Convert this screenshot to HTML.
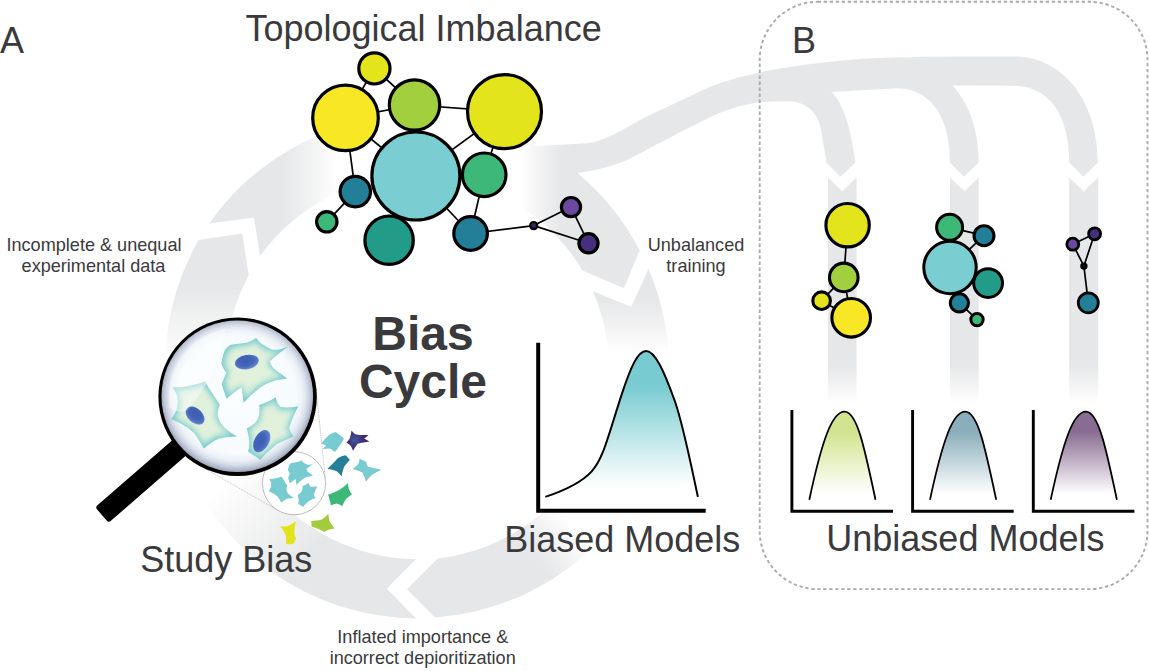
<!DOCTYPE html>
<html><head><meta charset="utf-8"><title>Bias Cycle</title>
<style>html,body{margin:0;padding:0;background:#fff}svg{display:block}text{font-family:"Liberation Sans",Arial,Helvetica,sans-serif;fill:#3a3a3c}</style>
</head><body>
<svg width="1149" height="671" viewBox="0 0 1149 671">
<defs>
<linearGradient id="g1" gradientUnits="userSpaceOnUse" x1="0.0" y1="364.0" x2="0.0" y2="286.0"><stop offset="0" stop-color="#e6e7e8" stop-opacity="0"/><stop offset="1" stop-color="#e6e7e8" stop-opacity="1"/></linearGradient>
<linearGradient id="g2" gradientUnits="userSpaceOnUse" x1="284.0" y1="0.0" x2="338.0" y2="0.0"><stop offset="0" stop-color="#e6e7e8" stop-opacity="1"/><stop offset="1" stop-color="#e6e7e8" stop-opacity="0"/></linearGradient>
<linearGradient id="g4" gradientUnits="userSpaceOnUse" x1="0.0" y1="300.0" x2="0.0" y2="354.0"><stop offset="0" stop-color="#e6e7e8" stop-opacity="1"/><stop offset="1" stop-color="#e6e7e8" stop-opacity="0"/></linearGradient>
<linearGradient id="g5" gradientUnits="userSpaceOnUse" x1="572.5" y1="525.2" x2="534.7" y2="555.1"><stop offset="0" stop-color="#e6e7e8" stop-opacity="0"/><stop offset="1" stop-color="#e6e7e8" stop-opacity="1"/></linearGradient>
<linearGradient id="g6" gradientUnits="userSpaceOnUse" x1="306.6" y1="559.1" x2="225.5" y2="478.0"><stop offset="0" stop-color="#e6e7e8" stop-opacity="1"/><stop offset="1" stop-color="#e6e7e8" stop-opacity="0"/></linearGradient>
<linearGradient id="g3" gradientUnits="userSpaceOnUse" x1="519.0" y1="0.0" x2="561.0" y2="0.0"><stop offset="0" stop-color="#e6e7e8" stop-opacity="0"/><stop offset="1" stop-color="#e6e7e8" stop-opacity="1"/></linearGradient>
<linearGradient id="gc" gradientUnits="userSpaceOnUse" x1="0.0" y1="366.0" x2="0.0" y2="403.0"><stop offset="0" stop-color="#e6e7e8" stop-opacity="1"/><stop offset="1" stop-color="#e6e7e8" stop-opacity="0"/></linearGradient>
<linearGradient id="pb" gradientUnits="userSpaceOnUse" x1="0" y1="352" x2="0" y2="486"><stop offset="0" stop-color="#78cbd0"/><stop offset="0.25" stop-color="#78cbd0"/><stop offset="1" stop-color="#fff"/></linearGradient>
<linearGradient id="pu0" gradientUnits="userSpaceOnUse" x1="0" y1="411" x2="0" y2="494"><stop offset="0" stop-color="#d2e48f"/><stop offset="0.25" stop-color="#d2e48f"/><stop offset="1" stop-color="#fff"/></linearGradient>
<linearGradient id="pu1" gradientUnits="userSpaceOnUse" x1="0" y1="411" x2="0" y2="494"><stop offset="0" stop-color="#8aaebb"/><stop offset="0.25" stop-color="#8aaebb"/><stop offset="1" stop-color="#fff"/></linearGradient>
<linearGradient id="pu2" gradientUnits="userSpaceOnUse" x1="0" y1="411" x2="0" y2="494"><stop offset="0" stop-color="#896c92"/><stop offset="0.25" stop-color="#896c92"/><stop offset="1" stop-color="#fff"/></linearGradient>
<radialGradient id="glass" gradientUnits="userSpaceOnUse" cx="237.3" cy="395.0" r="77.3"><stop offset="0" stop-color="#fbfdff"/><stop offset="0.76" stop-color="#f7fbfe"/><stop offset="0.84" stop-color="#edf2f8"/><stop offset="0.90" stop-color="#dae0ea"/><stop offset="0.95" stop-color="#bdc5d4"/><stop offset="0.985" stop-color="#a4acc0"/><stop offset="1" stop-color="#979fb5"/></radialGradient>
<radialGradient id="cg" cx="0.5" cy="0.5" r="0.6"><stop offset="0" stop-color="#e2f1dc"/><stop offset="0.55" stop-color="#d6eedd"/><stop offset="0.85" stop-color="#b3e3df"/><stop offset="1" stop-color="#8fd6d8"/></radialGradient>
<radialGradient id="ng" cx="0.45" cy="0.4" r="0.62"><stop offset="0" stop-color="#3d5bb1"/><stop offset="0.55" stop-color="#4465b8"/><stop offset="0.85" stop-color="#5a7dc8"/><stop offset="1" stop-color="#86a6dc"/></radialGradient>
<path id="c1" d="M 230.1 345.1 C 236 343.5 242 343.5 247.5 342.4 C 251 341.5 253.5 339.5 256.2 338 C 258.5 341 260.5 343.5 263.6 345.1 C 266.5 347 269.5 349 273 349.8 C 278 350 283.5 348.5 288.4 346.4 C 282 351 275 356 269.7 361.2 C 270.5 363.5 271.5 366 273 367.9 C 277.5 371.5 282.5 375 287.1 378.6 C 282.5 379.5 277.5 380 273 381.3 C 268 383 263.5 385 259.6 388 C 254 392.5 248.5 397.5 243.5 402.7 C 243 397.5 242.5 392.5 241.5 387.3 C 236.5 390.5 231.5 394.5 226.8 398.7 C 225 394 223 389 221.8 384 C 223 380 225 376.5 226.4 372.6 C 224.5 370 222.5 367 221.4 363.9 C 222 359.5 223 354.5 224.7 350.5 C 226 348.5 228 346.5 230.1 345.1 Z"/><path id="c2" d="M 172.3 387.2 C 178.5 387.5 185 386.8 190.8 385.4 C 195.8 384.4 200.5 383 204.9 381.4 C 209.5 389.3 215 397 219.7 404.9 C 218.3 408.3 217.4 412 217.6 415.6 C 218.5 420 221 424.2 224.3 427.6 C 228 431 232.5 434 237.1 436.4 C 231 436.5 225 437 219 438.4 C 213.5 441 208.5 444.5 203.6 448.4 C 200.8 443 197.8 437.8 194.2 433 C 190 429 185 425.8 180.1 423 C 177 421.5 174 420.3 171 418.9 C 173.5 416 175.6 412.6 176.8 408.9 C 177.8 405 178 400.8 177.4 396.8 C 176.3 393.3 174.5 390 172.3 387.2 Z"/><path id="c3" d="M 259.2 405.1 C 265 403.3 270.6 400.8 275.6 397.3 C 276.5 400.8 278 404.3 280.3 407.1 C 286.3 408 292.5 407.5 298.4 406.2 C 294.6 413.2 291.3 420.4 289 427.9 C 290 431 291.7 434 293.7 436.6 C 288 438.8 282.3 441.2 276.9 444 C 270.8 448.8 265.2 454.2 260.2 460.1 C 256.5 456.8 252.3 454 248.1 451.4 C 249 448 249.6 444.7 249.4 441.3 C 248.9 437 247.9 432.7 246.8 428.6 C 250.5 426.6 254 424.2 256.8 421.2 C 258.5 418.3 259.4 415 259.5 411.8 C 259.6 409.5 259.5 407.3 259.2 405.1 Z"/>
<clipPath id="cp1"><use href="#c1"/></clipPath><clipPath id="cp2"><use href="#c2"/></clipPath><clipPath id="cp3"><use href="#c3"/></clipPath><filter id="b3" x="-20%" y="-20%" width="140%" height="140%"><feGaussianBlur stdDeviation="3.4"/></filter>
<filter id="b1" x="-20%" y="-20%" width="140%" height="140%"><feGaussianBlur stdDeviation="0.7"/></filter>
<radialGradient id="pg" gradientUnits="userSpaceOnUse" cx="355" cy="440" r="12"><stop offset="0" stop-color="#3f5a9a"/><stop offset="0.6" stop-color="#43307c"/><stop offset="1" stop-color="#3a2469"/></radialGradient>
</defs>
<rect width="1149" height="671" fill="#fff"/>
<g id="ring">
<path d="M 230.1 407.1 A 191.4 191.4 0 0 1 248.7 275.2 L 242.2 233.5 L 198.6 240.1 A 251.5 251.5 0 0 0 171.3 419.6 Z" fill="url(#g1)"/>
<path d="M 260.1 256.1 L 253.9 217.5 L 209.3 223.4 A 251.5 251.5 0 0 1 391.0 117.2 L 397.3 176.9 A 191.4 191.4 0 0 0 260.1 256.1 Z" fill="url(#g2)"/>
<path d="M 592.9 291.3 L 631.3 306.8 L 648.5 268.7 A 251.5 251.5 0 0 1 668.6 376.1 L 608.6 374.0 A 191.4 191.4 0 0 0 592.9 291.3 Z" fill="url(#g4)"/>
<path d="M 559.5 495.4 A 191.4 191.4 0 0 1 437.6 558.6 L 407.0 589.2 L 435.0 617.4 A 251.5 251.5 0 0 0 604.2 535.6 Z" fill="url(#g5)"/>
<path d="M 416.2 559.2 L 386.9 588.7 L 416.2 618.4 A 251.5 251.5 0 0 1 181.0 453.3 L 237.4 432.8 A 191.4 191.4 0 0 0 416.2 559.2 Z" fill="url(#g6)"/>
<path d="M 476.4 185.3 A 191.4 191.4 0 0 1 582.4 270.6 L 623.9 288.2 L 639.7 250.5 A 251.5 251.5 0 0 0 577.5 173.0 C 600 170 620 164 633.5 156.7 C 650 148 680 132 700 122.2 C 725 109.5 745 102 775 101.5 C 783 101.3 788 101.3 790 101.3 C 806 102.5 818.5 112 821.3 131.5 C 823 142 825 153 826.4 162.4 L 840.4 176.8 L 855.5 162.4 C 853.5 150 850 125 842 108 C 839 101 835 95 831.3 92 L 897 88.2 C 930 88.5 950 116 950 162.4 L 963.9 176.8 L 978.6 162.4 C 978.6 128 968 102 952.4 85.4 L 1014.4 85.7 C 1050 86.5 1069.2 116 1069.2 162.4 L 1083.6 176.8 L 1097.8 162.4 C 1097.8 100 1062 56.6 1014.4 56.6 C 960 56.4 900 56.6 860 59 C 820 62 780 68 760 72.3 C 735 78 715 84 700 91.5 C 680 101 660 110 643 118.6 C 630 125.5 622 131 612 135.3 C 600 140.5 592 143.4 583.4 143.6 L 537.1 146.1 A 251.5 251.5 0 0 0 495.0 128.1 Z" fill="url(#g3)"/>
<path d="M 827.9 177.6 L 842.2 191.2 L 856.6 177.6 L 856.6 405 L 827.9 405 Z" fill="url(#gc)"/>
<path d="M 950.0 177.6 L 964.4 191.2 L 978.7 177.6 L 978.7 405 L 950.0 405 Z" fill="url(#gc)"/>
<path d="M 1069.2 177.6 L 1083.7 191.2 L 1098.2 177.6 L 1098.2 405 L 1069.2 405 Z" fill="url(#gc)"/>
</g>
<rect x="759.7" y="1.8" width="387.8" height="587.3" rx="58" ry="58" fill="none" stroke="#a8aaad" stroke-width="1.9" stroke-dasharray="3.3 2.7"/>
<g id="nets">
<line x1="374.4" y1="68.4" x2="345.5" y2="117.9" stroke="#000" stroke-width="1.7"/>
<line x1="374.4" y1="68.4" x2="414.5" y2="105" stroke="#000" stroke-width="1.7"/>
<line x1="345.5" y1="117.9" x2="414.5" y2="105" stroke="#000" stroke-width="1.7"/>
<line x1="345.5" y1="117.9" x2="415.9" y2="176" stroke="#000" stroke-width="1.7"/>
<line x1="345.5" y1="117.9" x2="355.3" y2="191.6" stroke="#000" stroke-width="1.7"/>
<line x1="414.5" y1="105" x2="504.5" y2="111.6" stroke="#000" stroke-width="1.7"/>
<line x1="504.5" y1="111.6" x2="415.9" y2="176" stroke="#000" stroke-width="1.7"/>
<line x1="504.5" y1="111.6" x2="484.2" y2="174.8" stroke="#000" stroke-width="1.7"/>
<line x1="484.2" y1="174.8" x2="470.6" y2="233.5" stroke="#000" stroke-width="1.7"/>
<line x1="415.9" y1="176" x2="470.6" y2="233.5" stroke="#000" stroke-width="1.7"/>
<line x1="355.3" y1="191.6" x2="326.8" y2="221.8" stroke="#000" stroke-width="1.7"/>
<line x1="470.6" y1="233.5" x2="533.7" y2="225.6" stroke="#000" stroke-width="1.7"/>
<line x1="533.7" y1="225.6" x2="571" y2="207.1" stroke="#000" stroke-width="1.7"/>
<line x1="533.7" y1="225.6" x2="588.5" y2="243.3" stroke="#000" stroke-width="1.7"/>
<line x1="571" y1="207.1" x2="588.5" y2="243.3" stroke="#000" stroke-width="1.7"/>
<circle cx="374.4" cy="68.4" r="15.6" fill="#e3e41c" stroke="#000" stroke-width="3.2"/>
<circle cx="345.5" cy="117.9" r="32.8" fill="#f7e724" stroke="#000" stroke-width="3.2"/>
<circle cx="414.5" cy="105" r="25.2" fill="#a2cf3e" stroke="#000" stroke-width="3.2"/>
<circle cx="504.5" cy="111.6" r="37" fill="#e3e41c" stroke="#000" stroke-width="3.2"/>
<circle cx="415.9" cy="176" r="44" fill="#7acdd1" stroke="#000" stroke-width="3.2"/>
<circle cx="484.2" cy="174.8" r="21.8" fill="#3db878" stroke="#000" stroke-width="3.2"/>
<circle cx="355.3" cy="191.6" r="15.2" fill="#237f97" stroke="#000" stroke-width="3.2"/>
<circle cx="326.8" cy="221.8" r="10.2" fill="#3db878" stroke="#000" stroke-width="3.2"/>
<circle cx="389.1" cy="240.2" r="24.2" fill="#239b89" stroke="#000" stroke-width="3.2"/>
<circle cx="470.6" cy="233.5" r="16.8" fill="#237f97" stroke="#000" stroke-width="3.2"/>
<circle cx="533.7" cy="225.6" r="3.6" fill="#3b1e5e" stroke="#000" stroke-width="2.2"/>
<circle cx="571" cy="207.1" r="9.6" fill="#6a4a9f" stroke="#000" stroke-width="3.2"/>
<circle cx="588.5" cy="243.3" r="9.6" fill="#46307e" stroke="#000" stroke-width="3.2"/>
<line x1="847.6" y1="225.2" x2="843.8" y2="277.4" stroke="#000" stroke-width="1.7"/>
<line x1="843.8" y1="277.4" x2="821.6" y2="300.7" stroke="#000" stroke-width="1.7"/>
<line x1="843.8" y1="277.4" x2="851.2" y2="317.8" stroke="#000" stroke-width="1.7"/>
<line x1="821.6" y1="300.7" x2="851.2" y2="317.8" stroke="#000" stroke-width="1.7"/>
<circle cx="847.6" cy="225.2" r="21.7" fill="#e3e41c" stroke="#000" stroke-width="3.1"/>
<circle cx="843.8" cy="277.4" r="14.3" fill="#a2cf3e" stroke="#000" stroke-width="3.1"/>
<circle cx="821.6" cy="300.7" r="8.8" fill="#e3e41c" stroke="#000" stroke-width="3.1"/>
<circle cx="851.2" cy="317.8" r="19.3" fill="#f7e724" stroke="#000" stroke-width="3.1"/>
<line x1="949.6" y1="227.3" x2="984" y2="235.7" stroke="#000" stroke-width="1.7"/>
<line x1="984" y1="235.7" x2="950" y2="267.5" stroke="#000" stroke-width="1.7"/>
<line x1="959.4" y1="302.9" x2="977" y2="319.6" stroke="#000" stroke-width="1.7"/>
<circle cx="949.6" cy="227.3" r="13" fill="#3db878" stroke="#000" stroke-width="3.0"/>
<circle cx="984" cy="235.7" r="10" fill="#237f97" stroke="#000" stroke-width="3.0"/>
<circle cx="950" cy="267.5" r="26.2" fill="#7acdd1" stroke="#000" stroke-width="3.0"/>
<circle cx="988.1" cy="283.1" r="14.4" fill="#239b89" stroke="#000" stroke-width="3.0"/>
<circle cx="959.4" cy="302.9" r="9.1" fill="#237f97" stroke="#000" stroke-width="3.0"/>
<circle cx="977" cy="319.6" r="6.2" fill="#3db878" stroke="#000" stroke-width="3.0"/>
<line x1="1072.8" y1="244.2" x2="1094.6" y2="233.8" stroke="#000" stroke-width="1.7"/>
<line x1="1072.8" y1="244.2" x2="1083.9" y2="266.1" stroke="#000" stroke-width="1.7"/>
<line x1="1094.6" y1="233.8" x2="1083.9" y2="266.1" stroke="#000" stroke-width="1.7"/>
<line x1="1083.9" y1="266.1" x2="1088.3" y2="302.8" stroke="#000" stroke-width="1.7"/>
<circle cx="1072.8" cy="244.2" r="6" fill="#6a4a9f" stroke="#000" stroke-width="2.8"/>
<circle cx="1094.6" cy="233.8" r="6" fill="#46307e" stroke="#000" stroke-width="2.8"/>
<circle cx="1083.9" cy="266.1" r="2.6" fill="#111" stroke="#000" stroke-width="2.2"/>
<circle cx="1088.3" cy="302.8" r="10" fill="#237f97" stroke="#000" stroke-width="2.8"/>
</g>
<g id="plots">
<path d="M 545.3 496.9 C 560 492 580 484 591.5 471.6 C 603 459 607 440 621.3 395.6 C 631 366 638 350.9 646.1 350.9 C 655 350.9 664 371 675 401.5 C 684 428 692 470 697.9 496.9 Z" fill="url(#pb)"/><path d="M 545.3 496.9 C 560 492 580 484 591.5 471.6 C 603 459 607 440 621.3 395.6 C 631 366 638 350.9 646.1 350.9 C 655 350.9 664 371 675 401.5 C 684 428 692 470 697.9 496.9" fill="none" stroke="#000" stroke-width="2"/>
<polyline points="538.2,342.8 538.2,510.8 705.7,510.8" fill="none" stroke="#000" stroke-width="4"/>
<path d="M 809.3 499.7 C 822.0 440.6 832.0 411.7 844.5 411.7 C 857.0 411.7 864.5 447.6 875.5 499.7 Z" fill="url(#pu0)"/><path d="M 809.3 499.7 C 822.0 440.6 832.0 411.7 844.5 411.7 C 857.0 411.7 864.5 447.6 875.5 499.7" fill="none" stroke="#000" stroke-width="1.75"/>
<polyline points="791.9,409.9 791.9,511.3 893.0,511.3" fill="none" stroke="#000" stroke-width="2.9"/>
<path d="M 930.0 499.7 C 942.7 440.6 952.7 411.7 965.2 411.7 C 977.7 411.7 985.2 447.6 996.2 499.7 Z" fill="url(#pu1)"/><path d="M 930.0 499.7 C 942.7 440.6 952.7 411.7 965.2 411.7 C 977.7 411.7 985.2 447.6 996.2 499.7" fill="none" stroke="#000" stroke-width="1.75"/>
<polyline points="912.6,409.9 912.6,511.3 1013.7,511.3" fill="none" stroke="#000" stroke-width="2.9"/>
<path d="M 1050.7 499.7 C 1063.4 440.6 1073.4 411.7 1085.9 411.7 C 1098.4 411.7 1105.9 447.6 1116.9 499.7 Z" fill="url(#pu2)"/><path d="M 1050.7 499.7 C 1063.4 440.6 1073.4 411.7 1085.9 411.7 C 1098.4 411.7 1105.9 447.6 1116.9 499.7" fill="none" stroke="#000" stroke-width="1.75"/>
<polyline points="1033.3,409.9 1033.3,511.3 1134.4,511.3" fill="none" stroke="#000" stroke-width="2.9"/>
</g>
<g id="mag">

<rect x="0" y="-10.25" width="125" height="20.5" rx="3" ry="3" fill="#000" transform="translate(101.9 515.05) rotate(-41)"/>
<line x1="198.6" y1="465.0" x2="278.3" y2="510.6" stroke="#9a9a9a" stroke-width="0.6" stroke-dasharray="1 0.8"/><line x1="316.1" y1="388.6" x2="325.4" y2="480.0" stroke="#9a9a9a" stroke-width="0.6" stroke-dasharray="1 0.8"/>
<circle cx="294.0" cy="483.2" r="31.6" fill="#fff" stroke="#b4b4b4" stroke-width="0.9"/>
<circle cx="237.6" cy="396.7" r="79.2" fill="#000"/>
<circle cx="237.3" cy="396.3" r="75.8" fill="url(#glass)"/>
<g filter="url(#b1)">
<use href="#c1" fill="#72cace"/><use href="#c2" fill="#72cace"/><use href="#c3" fill="#72cace"/>
</g>
<g clip-path="url(#cp1)"><use href="#c1" fill="#e1f1dc" filter="url(#b3)" transform="translate(252 368) scale(0.9) translate(-252 -368)"/></g>
<g clip-path="url(#cp2)"><use href="#c2" fill="#e1f1dc" filter="url(#b3)" transform="translate(200 415) scale(0.9) translate(-200 -415)"/></g>
<g clip-path="url(#cp3)"><use href="#c3" fill="#e1f1dc" filter="url(#b3)" transform="translate(271 430) scale(0.9) translate(-271 -430)"/></g>
<g filter="url(#b1)">
<ellipse cx="246.9" cy="362.1" rx="12" ry="7.2" transform="rotate(-10 246.9 362.1)" fill="url(#ng)"/>
<ellipse cx="195.1" cy="415.6" rx="11" ry="7.2" transform="rotate(42 195.1 415.6)" fill="url(#ng)"/>
<ellipse cx="261.8" cy="441.1" rx="12" ry="7.4" transform="rotate(-62 261.8 441.1)" fill="url(#ng)"/>
</g>
<path d="M 169.7 408 A 69 69 0 0 1 225.7 328.6 C 222 350 212 385 186 411 Q 178 413 169.7 408 Z" fill="#fff" opacity="0.42"/>
<g transform="translate(294.2 482.6) scale(0.383) translate(-237.7 -396.5)" fill="#78cbd0">
<use href="#c1"/><use href="#c2"/><use href="#c3"/></g>
<path d="M 321.3 443.2 C 324 440 326.5 437 329.1 434.9 C 331 433.5 333.5 432.5 335.6 431.9 C 338.5 434 341.5 436 344 438.5 C 341.5 443.5 338.5 448 335 451.9 C 333.3 450.5 331.5 449.3 329.7 448.6 C 327.3 448.5 324.8 448.8 322.5 449.2 C 323.8 448 325 446.8 326.1 445.6 C 324.5 444.8 323 444 321.3 443.2 Z" fill="#78cbd0"/>
<path d="M 351.5 430.5 C 352.5 432 353.8 433.4 355.3 434.3 C 359.5 435.2 364 435.3 368.4 434.9 C 367 436.2 365.5 437.4 364.2 438.5 C 366 439.4 367.8 440.4 369.4 441.5 C 365.5 442 361.5 442.6 357.7 443.8 C 355.8 446 354.3 448.3 353.1 450.8 C 352.4 449 351.5 447.2 350.5 445.6 C 349.3 444.5 347.9 443.5 346.4 442.6 C 347.8 441.2 349 439.6 349.9 437.9 C 350.7 435.5 351.2 433 351.5 430.5 Z" fill="url(#pg)"/>
<path d="M 327.3 468.9 C 331 465.5 334.8 462 338 458.1 C 340.3 456.6 343 455.7 345.5 455.2 C 347.2 456.6 348.7 458.2 349.9 459.9 C 347.6 462 345.5 464.4 344 467.1 C 342.8 470.2 342 473.4 341.6 476.6 C 340.2 474.7 338.6 472.9 336.8 471.3 C 333.8 470 330.5 469.3 327.3 468.9 Z" fill="#257f97"/>
<path d="M 352.7 468.9 C 354.8 467.5 356.7 465.9 358.3 464.1 C 359.1 462.4 359.5 460.6 359.5 458.7 C 361.6 459.8 363.8 460.9 366 461.7 C 366.3 463.4 366.9 465 367.8 466.5 C 372.2 467.9 376.7 469 381.2 469.8 C 378 471.3 375 473 372 474.8 C 369.8 476.8 367.8 479 366 481.4 C 365.2 478.3 364 475.3 362.4 472.4 C 359.3 470.9 356 469.7 352.7 468.9 Z" fill="#78cbd0"/>
<path d="M 328.1 494.7 C 331.9 493.4 335.6 491.8 339.1 489.9 C 342.4 488 345.4 485.7 348.1 483.1 C 348.1 485 348.2 486.9 348.7 488.7 C 349.5 490.7 350.7 492.6 352 494.3 C 350 495.7 348.1 497.2 346.3 498.8 C 344.7 501.1 343.3 503.6 342.1 506.2 C 340.5 505.1 338.7 504.2 336.8 503.6 C 334.8 504 332.8 504.6 330.8 505.4 C 330.6 503.6 330.2 501.8 329.6 500 C 329.3 498.2 328.8 496.4 328.1 494.7 Z" fill="#3cb878"/>
<path d="M 311.1 520.9 C 314.5 520.8 318 520.5 321.3 519.7 C 324 518.2 326.4 516.1 328.4 513.7 C 328.5 516.4 328.9 519 329.6 521.5 C 331 524 332.7 526.3 334.6 528.4 C 332.5 528.7 330.4 529.2 328.4 529.8 C 327 530.4 325.6 531.2 324.2 532 C 322.5 531 320.7 530 318.9 529.2 C 316.5 528.2 314 527.3 311.5 526.5 C 311.6 524.6 311.5 522.7 311.1 520.9 Z" fill="#a2cc3c"/>
<path d="M 280.1 526.5 C 282.7 526.6 285.3 526.5 287.9 526 C 290.8 524.8 293.5 523.2 296 521.3 C 295 525.7 294.4 530.1 294.4 534.6 C 294.8 535.8 295.3 536.9 296 537.9 C 295.3 540.1 294.4 542.2 293.2 544.1 C 290.8 544.2 288.4 544.1 286.1 543.9 C 286.3 540.8 286.1 537.6 285.5 534.6 C 284.2 531.6 282.3 528.9 280.1 526.5 Z" fill="#e2e31c"/>
</g>
<g id="labels">
<text x="0.1" y="52.9" font-size="36" text-anchor="start" font-weight="normal" >A</text>
<text x="792" y="52.9" font-size="36" text-anchor="start" font-weight="normal" >B</text>
<text x="423.6" y="40.5" font-size="36" text-anchor="middle" font-weight="normal" >Topological Imbalance</text>
<text x="226.2" y="572.3" font-size="36" text-anchor="middle" font-weight="normal" >Study Bias</text>
<text x="622.2" y="551.5" font-size="36" text-anchor="middle" font-weight="normal" >Biased Models</text>
<text x="965.4" y="551" font-size="36" text-anchor="middle" font-weight="normal" >Unbiased Models</text>
<text x="423" y="350.4" font-size="48" text-anchor="middle" font-weight="bold" >Bias</text>
<text x="423" y="398" font-size="48" text-anchor="middle" font-weight="bold" >Cycle</text>
<text x="94" y="251.3" font-size="18.1" text-anchor="middle" font-weight="normal" >Incomplete &amp; unequal</text>
<text x="93.5" y="272.3" font-size="18.1" text-anchor="middle" font-weight="normal" >experimental data</text>
<text x="696" y="250.5" font-size="18.1" text-anchor="middle" font-weight="normal" >Unbalanced</text>
<text x="696" y="272" font-size="18.1" text-anchor="middle" font-weight="normal" >training</text>
<text x="422.8" y="642.7" font-size="18.1" text-anchor="middle" font-weight="normal" >Inflated importance &amp;</text>
<text x="422.7" y="664.4" font-size="18.1" text-anchor="middle" font-weight="normal" >incorrect depioritization</text>
</g>
</svg>
</body></html>
